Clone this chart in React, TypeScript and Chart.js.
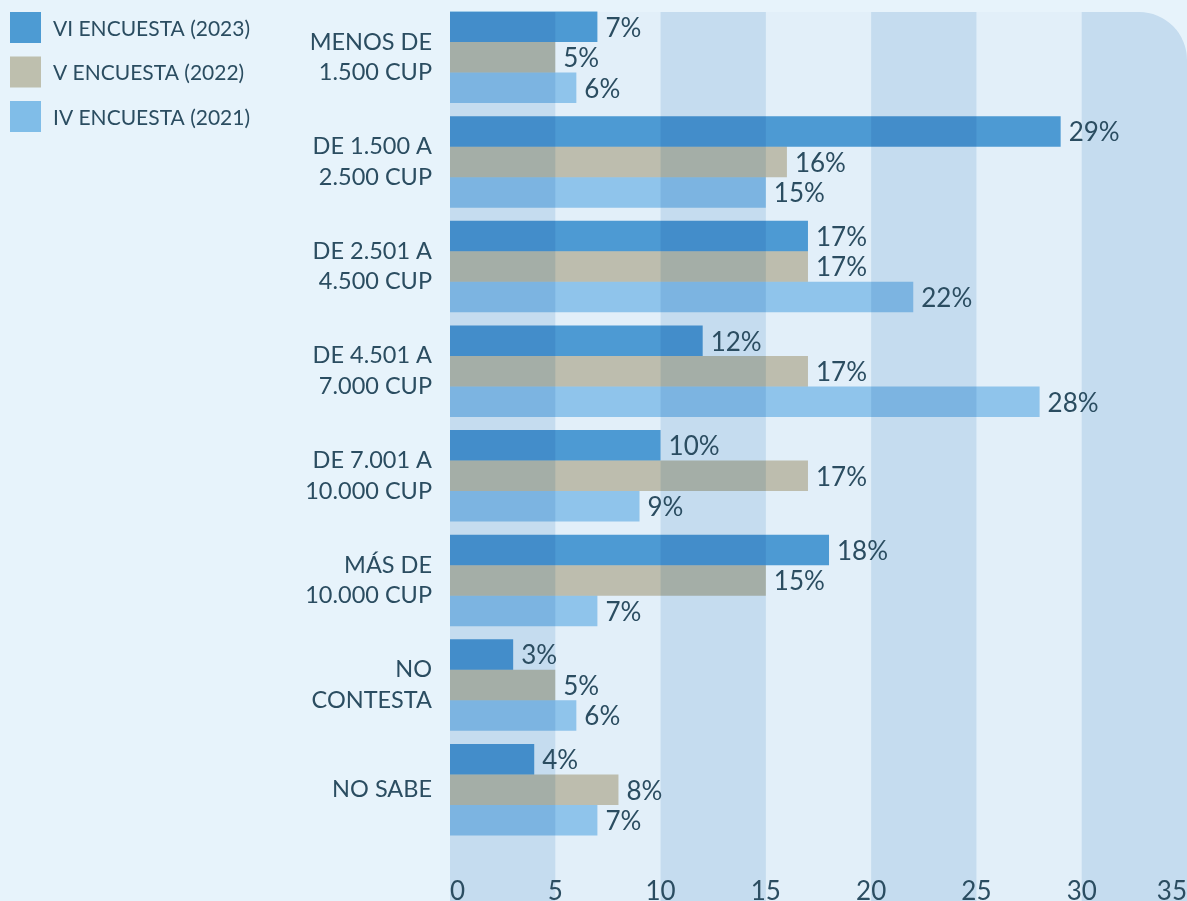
import React, { useEffect, useRef } from "react";
import { Chart, registerables } from "chart.js";

Chart.register(...registerables);

const categories: string[][] = [
  ["MENOS DE", "1.500 CUP"],
  ["DE 1.500 A", "2.500 CUP"],
  ["DE 2.501 A", "4.500 CUP"],
  ["DE 4.501 A", "7.000 CUP"],
  ["DE 7.001 A", "10.000 CUP"],
  ["MÁS DE", "10.000 CUP"],
  ["NO", "CONTESTA"],
  ["NO SABE"],
];
const seriesLabels = ["VI ENCUESTA (2023)", "V ENCUESTA (2022)", "IV ENCUESTA (2021)"];
const vi2023 = [7, 29, 17, 12, 10, 18, 3, 4];
const v2022 = [5, 16, 17, 17, 17, 15, 5, 8];
const iv2021 = [6, 15, 22, 28, 9, 7, 6, 7];
const xTicks = [0, 5, 10, 15, 20, 25, 30, 35];

const TEXT = "#2b4d61";
const PAGE_BG = "#e7f3fb";
const PLOT_BG = "#e2eff9";
const BAND = "#c5dcef";
// bar colours are multiplied over the background bands
const barColors = ["rgb(87,164,216)", "rgb(213,202,178)", "rgb(161,209,241)"];
const legendColors = ["#4d9bd3", "#bebfae", "#80bde8"];

export default function App() {
  const ref = useRef<HTMLCanvasElement | null>(null);
  useEffect(() => {
    document.body.style.margin = "0";
    document.body.style.background = PAGE_BG;
    const canvas = ref.current!;
    const plugin = {
      id: "custom",
      beforeDatasetsDraw(chart: any) {
        const ctx = chart.ctx as CanvasRenderingContext2D;
        const xs = chart.scales.x;
        const left = chart.chartArea.left;
        const right = chart.width;
        const top = 12;
        const bottom = chart.height;
        const r = 48;
        ctx.save();
        ctx.beginPath();
        ctx.moveTo(left, top);
        ctx.lineTo(right - r, top);
        ctx.arcTo(right, top, right, top + r, r);
        ctx.lineTo(right, bottom);
        ctx.lineTo(left, bottom);
        ctx.closePath();
        ctx.fillStyle = PLOT_BG;
        ctx.fill();
        ctx.clip();
        ctx.fillStyle = BAND;
        for (let i = 0; i + 1 < xTicks.length; i += 2) {
          const x0 = xs.getPixelForValue(xTicks[i]);
          const x1 = xs.getPixelForValue(xTicks[i + 1]);
          ctx.fillRect(x0, top, x1 - x0, bottom - top);
        }
        ctx.restore();
        ctx.globalCompositeOperation = "multiply";
      },
      afterDatasetsDraw(chart: any) {
        const ctx = chart.ctx as CanvasRenderingContext2D;
        ctx.globalCompositeOperation = "source-over";
        ctx.save();
        ctx.font = "26px Lato";
        ctx.fillStyle = TEXT;
        ctx.textAlign = "left";
        ctx.textBaseline = "middle";
        chart.data.datasets.forEach((ds: any, di: number) => {
          const meta = chart.getDatasetMeta(di);
          meta.data.forEach((el: any, i: number) => {
            ctx.fillText(ds.data[i] + "%", el.x + 8, el.y + 1.5);
          });
        });
        ctx.restore();
      },
      afterDraw(chart: any) {
        const ctx = chart.ctx as CanvasRenderingContext2D;
        const xs = chart.scales.x;
        ctx.save();
        ctx.fillStyle = TEXT;
        ctx.font = "26px Lato";
        ctx.textBaseline = "alphabetic";
        ctx.textAlign = "left";
        const left = chart.chartArea.left;
        const right = chart.width;
        xTicks.forEach((t) => {
          const s = String(t);
          const w = ctx.measureText(s).width;
          let cx = xs.getPixelForValue(t);
          cx = Math.max(left + w / 2, Math.min(right - w / 2, cx));
          ctx.fillText(s, cx - w / 2, 900);
        });
        // legend
        ctx.font = "21px Lato";
        ctx.textBaseline = "middle";
        chart.data.datasets.forEach((ds: any, i: number) => {
          const y = 12 + i * 44.5;
          ctx.fillStyle = legendColors[i];
          ctx.fillRect(10, y, 31, 31);
          ctx.fillStyle = TEXT;
          ctx.fillText(ds.label, 53, y + 17);
        });
        ctx.restore();
      },
    };
    const chart = new Chart(canvas, {
      type: "bar",
      data: {
        labels: categories,
        datasets: [
          { label: seriesLabels[0], data: vi2023, backgroundColor: barColors[0] },
          { label: seriesLabels[1], data: v2022, backgroundColor: barColors[1] },
          { label: seriesLabels[2], data: iv2021, backgroundColor: barColors[2] },
        ],
      },
      options: {
        indexAxis: "y",
        animation: false,
        responsive: true,
        maintainAspectRatio: false,
        datasets: { bar: { categoryPercentage: 0.875, barPercentage: 1 } },
        layout: { padding: { top: 5, bottom: 59, left: 0, right: 0 } },
        plugins: { legend: { display: false }, tooltip: { enabled: false } },
        scales: {
          x: { display: false, min: 0, max: 35 },
          y: {
            grid: { display: false },
            border: { display: false },
            ticks: {
              color: TEXT,
              padding: 10,
              font: { family: "Lato", size: 23.5, lineHeight: 1.3 },
            },
            afterFit: (s: any) => {
              s.width = 450;
              s.paddingTop = 0;
              s.paddingBottom = 0;
            },
          },
        },
      },
      plugins: [plugin],
    });
    return () => chart.destroy();
  }, []);
  return (
    <div style={{ width: 1187, height: 901, position: "relative" }}>
      <canvas ref={ref} />
    </div>
  );
}
